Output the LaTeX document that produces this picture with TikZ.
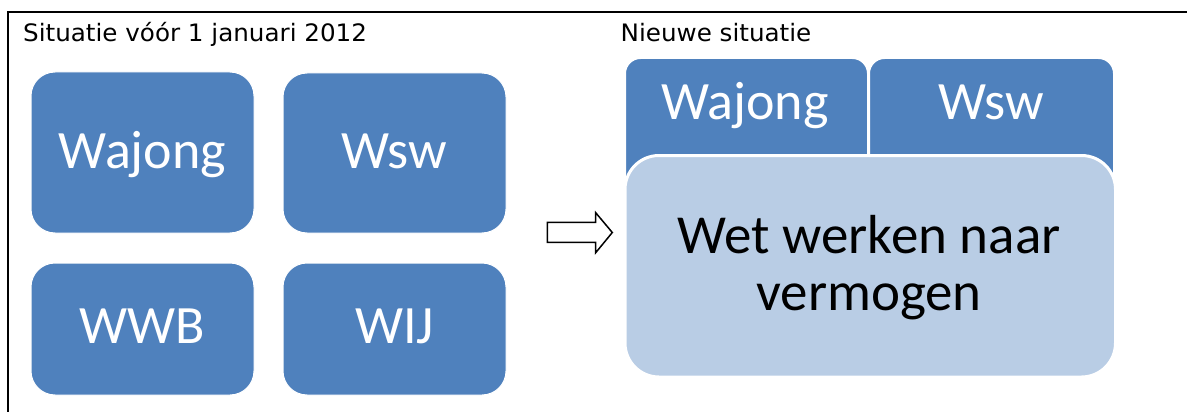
\documentclass[tikz,border=0pt]{standalone}
\usepackage{fontspec}
\newfontfamily\carl{Carlito}
\newfontfamily\verd[FakeStretch=1.025]{DejaVu Sans}
\definecolor{dblue}{HTML}{4F81BD}
\definecolor{lblue}{HTML}{B9CDE5}
\tikzset{
  oldbox/.style={fill=dblue, draw=white, line width=1pt, rounded corners=24pt},
  tabbox/.style={fill=dblue, draw=white, line width=3pt, rounded corners=16pt},
  bigbox/.style={fill=lblue, draw=white, line width=3pt, rounded corners=34pt},
  wlab/.style={text=white, font=\carl\fontsize{54}{60}\selectfont, inner sep=0pt, anchor=base},
  blab/.style={text=black, font=\carl\fontsize{55}{60}\selectfont, inner sep=0pt, anchor=base},
  title/.style={text=black, font=\verd\fontsize{24}{28}\selectfont, inner sep=0pt, anchor=base west},
  blockarrow/.style={fill=white, draw=black, line width=1.5pt, line join=miter}
}
\begin{document}
\begin{tikzpicture}[x=1pt,y=-1pt]
\useasboundingbox (0,0) rectangle (1187,412);
\clip (0,0) rectangle (1187,412);
% frame
\draw[line width=2pt] (8.3,420) -- (8.3,11.7) -- (1195,11.7);
% titles
\node[title] (t1) at (23,41.7) {Situatie vóór 1 januari 2012};
\node[title] (t2) at (620.5,41.7) {Nieuwe situatie};
% old situation boxes
\path[oldbox] (31,72) rectangle (254,233);
\node[wlab] (l1) at (142.5,168) {Wajong};
\path[oldbox] (283,73) rectangle (506,233);
\node[wlab] (l2) at (394.5,168) {Wsw};
\path[oldbox] (31,263) rectangle (254,395);
\node[wlab] (l3) at (142.5,343) {WWB};
\path[oldbox] (283,263) rectangle (506,395);
\node[wlab] (l4) at (394.5,343) {WIJ};
% arrow
\draw[blockarrow] (547.3,222.3) -- (595.7,222.3) -- (595.7,212.7) -- (612.3,232.5)
  -- (595.7,252.7) -- (595.7,242.3) -- (547.3,242.3) -- cycle;
% new situation
\path[tabbox] (624.5,57.5) rectangle (868.5,215);
\path[tabbox] (868.5,57.5) rectangle (1114.5,215);
\node[wlab] (n1) at (745,120) {Wajong};
\node[wlab] (n2) at (991.5,120) {Wsw};
\path[bigbox] (625,155.5) rectangle (1115.5,377);
\node[blab] (n3) at (869,253) {Wet werken naar};
\node[blab] (n4) at (869,310) {vermogen};
\end{tikzpicture}
\end{document}
